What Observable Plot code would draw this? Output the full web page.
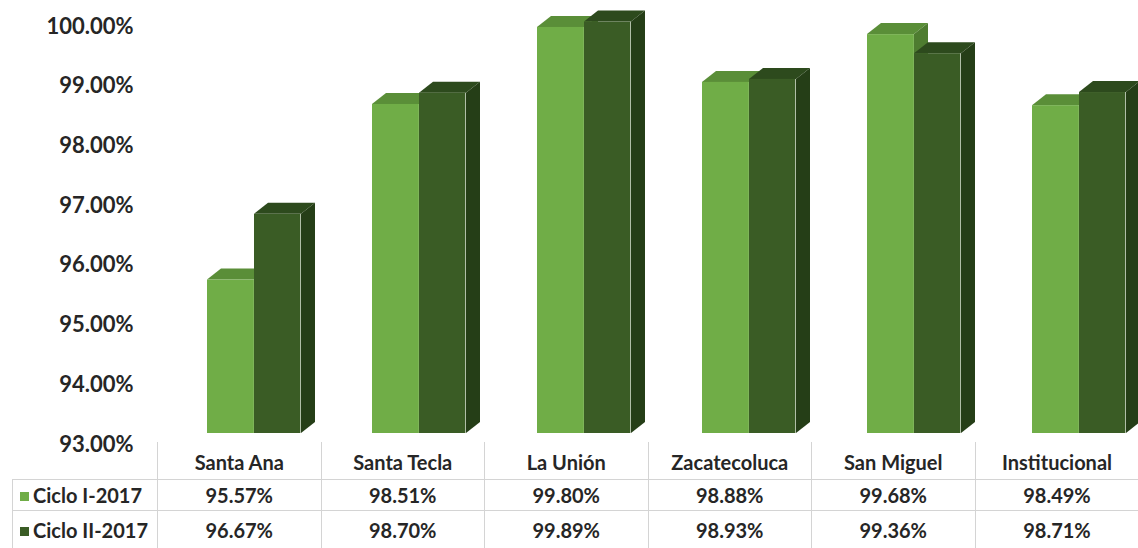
<!DOCTYPE html>
<html>
<head>
<meta charset="utf-8">
<script src="https://cdn.jsdelivr.net/npm/d3@7"></script>
<script src="https://cdn.jsdelivr.net/npm/@observablehq/plot@0.6"></script>
<style>
  html, body { margin: 0; padding: 0; background: #fff; }
  #chart svg { overflow: visible; display: block; }
  #chart svg text { font-weight: 700; }
  table.dt {
    margin-left: 12px;
    border-collapse: collapse;
    table-layout: fixed;
    width: 1126px;
    font-family: Lato, "Open Sans", sans-serif;
    font-size: 20px;
    font-weight: 700;
    color: #262626;
    background: transparent;
  }
  table.dt td { padding: 0; text-align: center; white-space: nowrap; overflow: hidden; }
  table.dt tr.head td { height: 32px; vertical-align: bottom; padding-bottom: 5px; border-left: 1.5px solid #d4d4d4; border-bottom: 1.5px solid #d4d4d4; }
  table.dt tr.head td.blank { border-left: none; }
  table.dt tr.r1 td { height: 30px; border-left: 1.5px solid #d4d4d4; border-bottom: 1.5px solid #d4d4d4; }
  table.dt tr.r2 td { height: 37px; border-left: 1.5px solid #d4d4d4; border-bottom: 1.5px solid #d4d4d4; }
  table.dt td.rh { text-align: left; padding-left: 7px; }
  .sw { display: inline-block; width: 9px; height: 9px; margin-right: 4px; vertical-align: 2px; }
</style>
</head>
<body>
<div id="chart"></div>
<script>
// ---- data ----
const sites = ["Santa Ana", "Santa Tecla", "La Unión", "Zacatecoluca", "San Miguel", "Institucional"];
const seriesNames = ["Ciclo I-2017", "Ciclo II-2017"];
const ciclo1 = [95.57, 98.51, 99.80, 98.88, 99.68, 98.49];
const ciclo2 = [96.67, 98.70, 99.89, 98.93, 99.36, 98.71];
const yTicks = [93, 94, 95, 96, 97, 98, 99, 100];
const yDomain = [93, 100];

// ---- style ----
const front = ["#70ad47", "#3a5c25"];
const topC = ["#5a8e38", "#2d4a1d"];
const sideC = ["#4e7c30", "#253e17"];
const barW = 47;
const insets = [[65, 53.1], [112, 6.6]]; // [left, right] inset within a category band
const depthX = 14, depthY = 11;

const values = [ciclo1, ciclo2];
const fmt = v => v.toFixed(2) + "%";

function depthFaces(index, scales) {
  const g = d3.create("svg:g");
  const yb = scales.y(yDomain[0]);
  sites.forEach((s, i) => {
    const x0 = scales.x(s);
    [0, 1].forEach(k => {
      const xl = x0 + insets[k][0];
      const xr = xl + barW;
      const yt = scales.y(values[k][i]);
      g.append("polygon")
        .attr("points", [[xl, yt], [xl + depthX, yt - depthY], [xr + depthX, yt - depthY], [xr, yt]].join(" "))
        .attr("fill", topC[k]);
      g.append("polygon")
        .attr("points", [[xr, yt], [xr + depthX, yt - depthY], [xr + depthX, yb - depthY], [xr, yb]].join(" "))
        .attr("fill", sideC[k]);
    });
  });
  return g.node();
}

const chart = Plot.plot({
  width: 1138,
  height: 442,
  marginLeft: 140,
  marginRight: 4.4,
  marginTop: 15,
  marginBottom: 9,
  style: { fontFamily: "Lato, 'Open Sans', sans-serif", fontSize: "22px", color: "#262626", background: "transparent", overflow: "visible" },
  x: { domain: sites, padding: 0, axis: null },
  y: { domain: yDomain, axis: null },
  marks: [
    Plot.axisY(yTicks, { tickSize: 0, tickPadding: 7, tickFormat: fmt, dy: 11, fontSize: 22 }),
    depthFaces,
    ...[0, 1].map(k => Plot.barY(sites, {
      x: d => d,
      y1: () => yDomain[0],
      y2: (d, i) => values[k][i],
      fill: front[k],
      insetLeft: insets[k][0],
      insetRight: insets[k][1]
    }))
  ]
});
document.getElementById("chart").appendChild(chart);

// ---- data table below the chart ----
const table = d3.select("#chart").append("table").attr("class", "dt");
const cg = table.append("colgroup");
cg.append("col").style("width", "145px");
sites.forEach(() => cg.append("col").style("width", "163.5px"));
const head = table.append("tr").attr("class", "head");
head.append("td").attr("class", "blank");
sites.forEach(s => head.append("td").text(s));
seriesNames.forEach((name, k) => {
  const tr = table.append("tr").attr("class", k === 0 ? "r1" : "r2");
  const th = tr.append("td").attr("class", "rh");
  th.append("span").attr("class", "sw").style("background", front[k]);
  th.append("span").text(name);
  values[k].forEach(v => tr.append("td").text(fmt(v)));
});
</script>
</body>
</html>
